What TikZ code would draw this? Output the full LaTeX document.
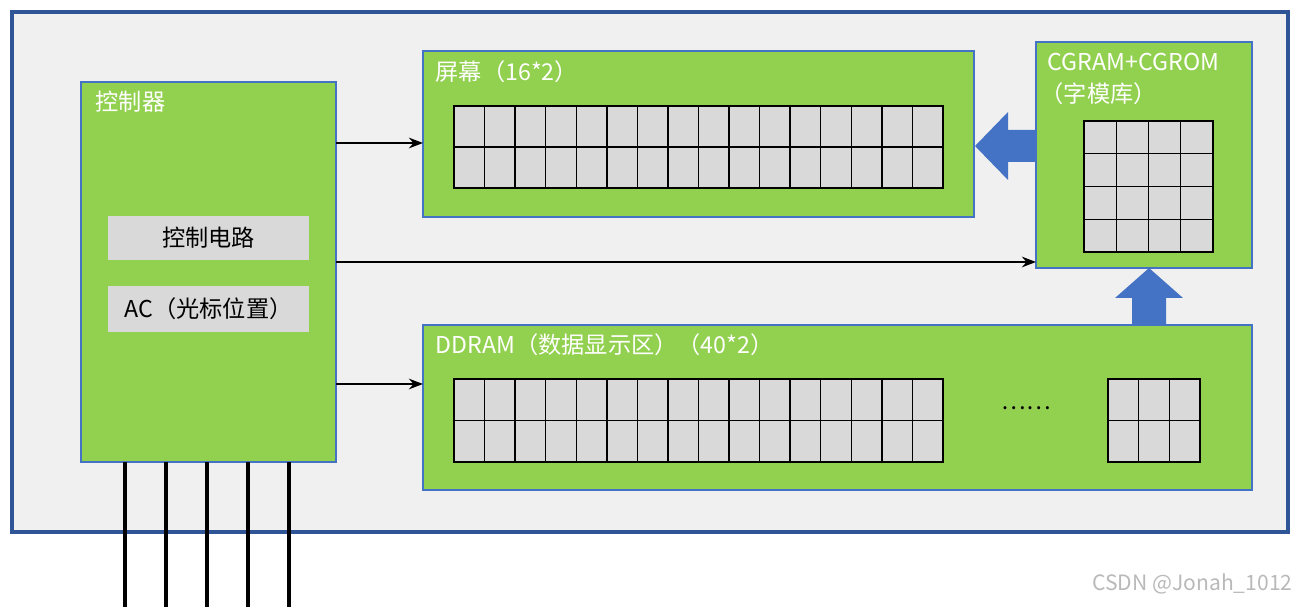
\documentclass[tikz,border=0pt]{standalone}
\usepackage{fontspec}
\setmainfont{Noto Sans CJK SC}
\usetikzlibrary{arrows.meta}
\definecolor{framegray}{HTML}{F0F0F0}
\definecolor{frameblue}{HTML}{2F5597}
\definecolor{boxgreen}{HTML}{92D050}
\definecolor{cellgray}{HTML}{D9D9D9}
\definecolor{arrowblue}{HTML}{4472C4}
\begin{document}
\begin{tikzpicture}[x=0.01cm,y=-0.01cm,
% common options for the green blocks:
block/.style = {draw=arrowblue, fill=boxgreen, line width=0.4pt},
% common options for the labels:
title/.style = {text=white, anchor=west, inner sep=0, font=\fontsize{6.6}{8}\selectfont},
cell/.style = {draw=black, fill=cellgray, line width=0.4pt},
link/.style = {-{Stealth[length=4pt]}, line width=0.8pt}]
\useasboundingbox (0,0) rectangle (1310,607);
\draw[fill=framegray, draw=frameblue, line width=1pt] (12,12) rectangle (1288,532);

% blocks
\draw[block] (81,82) rectangle (336,462);
\node[title] (ctl) at (95,102) {控制器};
\node[draw=none, fill=cellgray, minimum width=2.01cm, minimum height=0.42cm, font=\fontsize{6.6}{8}\selectfont] (circ) at (208.5,238) {控制电路};
\node[draw=none, fill=cellgray, minimum width=2.01cm, minimum height=0.42cm, font=\fontsize{6.6}{8}\selectfont] (ac) at (208.5,309) {AC（光标位置）};

\draw[block] (423,51) rectangle (974,217);
\node[title] (scr) at (435,72) {屏幕（16*2）};
\draw[block] (1036,42) rectangle (1252,268);
\node[title] (cg1) at (1047,62) {CGRAM+CGROM};
\node[title] (cg2) at (1040,94) {（字模库）};
\draw[block] (423,325) rectangle (1252,490);
\node[title] (dd) at (435,345) {DDRAM（数据显示区）（40*2）};

% grids
\foreach \i in {0,...,15} {
  \foreach \j in {0,1} {
    \draw[cell] (454+\i*30.56,106+\j*41) rectangle ++(30.56,41);
    \draw[cell] (454+\i*30.56,379+\j*41.5) rectangle ++(30.56,41.5);
  }
}
\foreach \i in {0,...,3}
  \foreach \j in {0,...,3}
    \draw[cell] (1084+\i*32.25,121+\j*32.75) rectangle ++(32.25,32.75);
\foreach \i in {0,1,2}
  \foreach \j in {0,1}
    \draw[cell] (1108+\i*30.67,379+\j*41.5) rectangle ++(30.67,41.5);
\node[font=\fontsize{6.6}{8}\selectfont] (dots) at (1026,408) {……};

% connectors
\coordinate (c1) at (336,143); \coordinate (s1) at (423,143);
\coordinate (c2) at (336,262); \coordinate (g1) at (1036,262);
\coordinate (c3) at (336,384); \coordinate (d1) at (423,384);
\draw[link] (c1) -- (s1);
\draw[link] (c2) -- (g1);
\draw[link] (c3) -- (d1);

% block arrows
\fill[arrowblue] (975,146) -- (1008,112) -- (1008,130) -- (1036,130) -- (1036,162) -- (1008,162) -- (1008,180) -- cycle;
\fill[arrowblue] (1149,268) -- (1183,298) -- (1166,298) -- (1166,325) -- (1132,325) -- (1132,298) -- (1115,298) -- cycle;

% bus lines
\foreach \x in {125,166,207,248,289}
  \draw[line width=1.3pt] (\x,462) -- (\x,607);

\node[text=gray!55, anchor=east, font=\fontsize{6}{7}\selectfont] (mark) at (1305,584) {CSDN @Jonah\_1012};
\end{tikzpicture}
\end{document}
